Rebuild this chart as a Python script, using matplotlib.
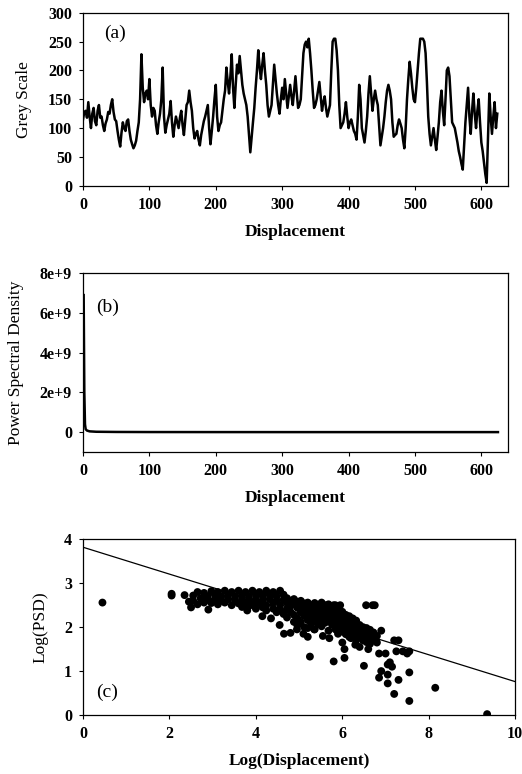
"""
灰度剖面、功率谱密度及其双对数拟合 (三联图)
"""

import numpy as np
import matplotlib.pyplot as plt

plt.rcParams['font.family'] = ['Liberation Serif', 'DejaVu Serif']

# (a) 灰度剖面, 每 2 个像素读一个值
grey_step = 2
grey_values = [
    115, 128, 130, 118, 145, 120, 100, 125, 135, 112, 105, 130, 140, 118, 120, 105,
    95, 108, 115, 128, 125, 140, 150, 128, 115, 112, 95, 80, 68, 92, 110, 100,
    95, 112, 115, 95, 80, 72, 65, 70, 78, 95, 110, 150, 228, 170, 145, 160,
    165, 150, 185, 140, 120, 135, 130, 105, 90, 110, 125, 150, 205, 120, 92, 105,
    115, 125, 147, 110, 85, 105, 120, 110, 100, 118, 130, 105, 88, 115, 140, 145,
    165, 145, 130, 100, 82, 90, 95, 80, 70, 88, 100, 112, 120, 130, 140, 100,
    72, 95, 120, 150, 175, 120, 95, 105, 110, 130, 150, 165, 205, 180, 160, 190,
    228, 170, 135, 175, 210, 195, 225, 200, 175, 160, 150, 140, 120, 90, 58, 85,
    110, 135, 170, 200, 235, 205, 185, 210, 230, 200, 175, 140, 120, 130, 140, 175,
    210, 185, 160, 140, 125, 150, 170, 150, 185, 160, 135, 155, 175, 155, 140, 165,
    190, 160, 135, 140, 150, 190, 230, 245, 250, 240, 255, 230, 200, 165, 135, 140,
    150, 165, 180, 155, 130, 145, 155, 135, 120, 130, 140, 200, 250, 255, 255, 235,
    200, 140, 100, 105, 110, 125, 145, 120, 100, 110, 115, 105, 95, 90, 80, 120,
    175, 150, 100, 88, 75, 95, 120, 160, 190, 160, 130, 150, 165, 150, 140, 105,
    70, 85, 100, 120, 145, 165, 175, 165, 150, 110, 85, 88, 90, 105, 115, 108,
    100, 80, 65, 100, 150, 185, 215, 195, 170, 150, 145, 170, 200, 230, 255, 255,
    255, 250, 230, 180, 120, 90, 70, 85, 100, 80, 62, 85, 110, 145, 165, 130,
    105, 150, 200, 205, 190, 150, 110, 105, 100, 88, 75, 60, 50, 38, 28, 70,
    110, 140, 170, 120, 90, 130, 160, 125, 100, 130, 150, 110, 75, 60, 40, 20,
    5, 80, 160, 120, 90, 120, 145, 100, 125,
]

# (b) 功率谱密度
psd_x = [1, 2, 3, 4, 6, 10, 20, 50, 100, 200, 300, 400, 500, 625]
psd_values = [6.9e9, 2.0e9, 4e8, 1.5e8, 8e7, 4e7, 2e7, 1e7, 5e6, 3e6, 2e6, 2e6, 2e6, 2e6]

# (c) 双对数散点: 先是离群点, 再是密集带
log_disp = [
    0.45, 2.05, 2.05, 2.35, 2.5, 2.45, 2.9, 3.8, 4.15, 4.35, 4.55, 4.65, 4.8,
    5.25, 5.8, 6.05, 6.05, 6.5, 6.85, 6.9, 7.05, 7.05, 7.2, 7.3, 7.55, 7.55,
    8.15, 9.35, 7.55, 7.5, 6.55, 6.7, 6.75, 6.9, 7.2, 7.3, 7.0, 7.1, 7.15, 7.05,
    7.25, 7.4, 6.85, 6.6, 6.4, 6.3, 6.2, 6.0, 5.9, 5.7, 5.55, 5.35, 5.1, 5.2,
    4.95, 5.0, 5.8, 5.95,
    2.55, 2.55, 2.65, 2.65, 2.72, 2.8, 2.8, 2.88, 2.88, 2.97, 2.97,
    3.05, 3.05, 3.12, 3.12, 3.2, 3.2, 3.28, 3.28, 3.36, 3.36, 3.44, 3.44,
    3.52, 3.52, 3.6, 3.6, 3.68, 3.68, 3.68, 3.76, 3.76, 3.84, 3.84, 3.84,
    3.92, 3.92, 4.0, 4.0, 4.0, 4.08, 4.08, 4.16, 4.16, 4.16,
    4.24, 4.24, 4.24, 4.32, 4.32, 4.4, 4.4, 4.4, 4.48, 4.48, 4.48,
    4.56, 4.56, 4.56, 4.64, 4.64, 4.64, 4.72, 4.72, 4.72, 4.72,
    4.8, 4.8, 4.8, 4.88, 4.88, 4.88, 4.88, 4.96, 4.96, 4.96, 4.96,
    5.04, 5.04, 5.04, 5.04, 5.12, 5.12, 5.12, 5.12,
    5.2, 5.2, 5.2, 5.2, 5.2, 5.28, 5.28, 5.28, 5.28,
    5.36, 5.36, 5.36, 5.36, 5.36, 5.44, 5.44, 5.44, 5.44,
    5.52, 5.52, 5.52, 5.52, 5.52, 5.6, 5.6, 5.6, 5.6,
    5.68, 5.68, 5.68, 5.68, 5.68, 5.76, 5.76, 5.76, 5.76,
    5.84, 5.84, 5.84, 5.84, 5.84, 5.92, 5.92, 5.92, 5.92,
    6.0, 6.0, 6.0, 6.0, 6.08, 6.08, 6.08, 6.08, 6.16, 6.16, 6.16, 6.16,
    6.24, 6.24, 6.24, 6.32, 6.32, 6.32, 6.32, 6.4, 6.4, 6.4,
    6.48, 6.48, 6.48, 6.56, 6.56, 6.56, 6.64, 6.64, 6.64, 6.72, 6.72, 6.8, 6.8,
]
log_psd = [
    2.56, 2.72, 2.76, 2.73, 2.45, 2.58, 2.4, 2.38, 2.25, 2.2, 2.05, 1.85, 1.87,
    1.33, 1.22, 1.3, 1.5, 1.12, 0.85, 1.0, 0.72, 0.92, 0.48, 0.8, 0.32, 0.97,
    0.62, 0.02, 1.45, 1.4, 2.5, 2.5, 2.5, 1.92, 1.7, 1.7, 1.4, 1.2, 1.1, 1.15,
    1.45, 1.45, 1.4, 1.5, 1.55, 1.6, 1.75, 1.65, 1.85, 1.75, 1.8, 1.95, 1.85, 1.78,
    1.95, 2.1, 2.5, 2.5,
    2.72, 2.6, 2.8, 2.52, 2.66, 2.78, 2.56, 2.7, 2.62, 2.82, 2.55,
    2.74, 2.64, 2.8, 2.52, 2.7, 2.6, 2.83, 2.56, 2.74, 2.64, 2.8, 2.5,
    2.7, 2.6, 2.83, 2.54, 2.74, 2.64, 2.46, 2.8, 2.55, 2.7, 2.6, 2.48,
    2.83, 2.52, 2.74, 2.64, 2.42, 2.8, 2.55, 2.7, 2.6, 2.45,
    2.83, 2.5, 2.38, 2.74, 2.64, 2.8, 2.55, 2.42, 2.7, 2.6, 2.34,
    2.83, 2.5, 2.4, 2.74, 2.62, 2.3, 2.66, 2.55, 2.42, 2.22,
    2.6, 2.48, 2.35, 2.64, 2.52, 2.28, 2.12, 2.58, 2.44, 2.2, 2.04,
    2.6, 2.48, 2.34, 2.12, 2.54, 2.4, 2.26, 2.0,
    2.56, 2.44, 2.3, 2.16, 1.98, 2.5, 2.36, 2.22, 2.08,
    2.55, 2.42, 2.3, 2.14, 1.95, 2.5, 2.38, 2.24, 2.08,
    2.56, 2.44, 2.3, 2.18, 2.02, 2.5, 2.36, 2.22, 2.1,
    2.52, 2.42, 2.28, 2.14, 1.92, 2.46, 2.34, 2.2, 2.06,
    2.5, 2.4, 2.26, 2.12, 1.95, 2.44, 2.3, 2.18, 2.02,
    2.35, 2.22, 2.08, 1.9, 2.28, 2.14, 2.0, 1.84, 2.25, 2.1, 1.96, 1.78,
    2.2, 2.05, 1.9, 2.15, 2.0, 1.85, 1.7, 2.05, 1.92, 1.78,
    2.0, 1.86, 1.7, 1.98, 1.82, 1.66, 1.94, 1.78, 1.62, 1.88, 1.72, 1.8, 1.65,
]
fit_slope = -0.306
fit_intercept = 3.82

TICK_SIZE = 11.5
XLABEL_FONT = dict(fontsize=12.5, fontweight='bold', labelpad=8)
YLABEL_FONT = dict(fontsize=12.5, labelpad=11)


def style_axes(ax):
    """统一坐标轴样式"""
    for sp in ax.spines.values():
        sp.set_linewidth(0.9)
    ax.tick_params(direction='out', length=3, width=0.8, pad=5,
                   top=False, right=False)
    for lab in ax.get_xticklabels() + ax.get_yticklabels():
        lab.set_fontsize(TICK_SIZE)
        lab.set_fontweight('bold')


fig = plt.figure(figsize=(5.22, 7.74), dpi=100)

# (a)
grey_x = np.arange(len(grey_values)) * grey_step
ax1 = fig.add_axes([0.159, 0.760, 0.814, 0.2235])
ax1.plot(grey_x, grey_values, color='black', linewidth=1.8)
ax1.set_xlim(0, 640)
ax1.set_ylim(0, 300)
ax1.set_xticks(range(0, 700, 100))
ax1.set_yticks(range(0, 350, 50))
ax1.set_xlabel('Displacement', **XLABEL_FONT)
ax1.set_ylabel('Grey Scale', **YLABEL_FONT)
ax1.text(0.05, 0.93, '(a)', transform=ax1.transAxes, fontsize=14, va='top')
style_axes(ax1)

# (b)
ax2 = fig.add_axes([0.159, 0.416, 0.814, 0.231])
ax2.plot(psd_x, psd_values, color='black', linewidth=1.8)
ax2.set_xlim(0, 640)
ax2.set_ylim(-1e9, 8e9)
ax2.set_xticks(range(0, 700, 100))
ax2.set_yticks([0, 2e9, 4e9, 6e9, 8e9])
ax2.set_yticklabels(['0', '2e+9', '4e+9', '6e+9', '8e+9'])
ax2.set_xlabel('Displacement', **XLABEL_FONT)
ax2.set_ylabel('Power Spectral Density', **YLABEL_FONT)
ax2.text(0.03, 0.86, '(b)', transform=ax2.transAxes, fontsize=14, va='top')
style_axes(ax2)

# (c)
ax3 = fig.add_axes([0.159, 0.0762, 0.828, 0.227])
ax3.scatter(log_disp, log_psd, s=32, color='black', edgecolors='none')
fit_x = np.array([0, 10])
ax3.plot(fit_x, fit_slope * fit_x + fit_intercept, color='black', linewidth=0.9)
ax3.set_xlim(0, 10)
ax3.set_ylim(0, 4)
ax3.set_xticks(range(0, 12, 2))
ax3.set_yticks(range(0, 5))
ax3.set_xlabel('Log(Displacement)', **XLABEL_FONT)
ax3.set_ylabel('Log(PSD)', **YLABEL_FONT)
ax3.text(0.03, 0.18, '(c)', transform=ax3.transAxes, fontsize=14, va='top')
style_axes(ax3)

fig.savefig('out.png', dpi=100)
